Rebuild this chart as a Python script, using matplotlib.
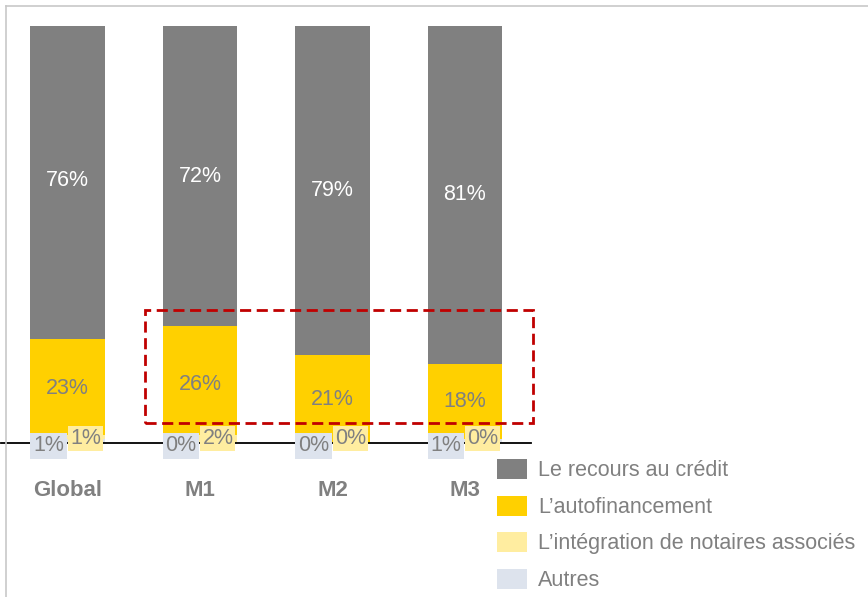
import matplotlib
matplotlib.use("Agg")
import matplotlib.pyplot as plt
from matplotlib.patches import Rectangle, Patch
from matplotlib.lines import Line2D
import numpy as np

plt.rcParams['font.family'] = ['Liberation Sans', 'DejaVu Sans']

categories = ["Global", "M1", "M2", "M3"]
credit = [76, 72, 79, 81]
autofin = [23, 26, 21, 18]
notaires = [1, 2, 0, 0]
autres = [1, 0, 0, 1]
series_names = ["Le recours au crédit", "L’autofinancement",
                "L’intégration de notaires associés", "Autres"]

C_GRAY = "#808080"
C_YEL = "#ffd000"
C_LYEL = "#ffeda0"
C_BLUE = "#dde3ed"
TXT = "#808080"

W, H = 868, 597
fig = plt.figure(figsize=(W / 100, H / 100), dpi=100)

def fx(px):
    return px / W

def fy(py):
    return 1 - py / H

ax = fig.add_axes([fx(1.25), fy(443), fx(530), (443 - 26) / H])
x = np.arange(len(categories))
bw = 0.566

b0 = np.zeros(len(x))
ax.bar(x, autres, bw, bottom=b0, color=C_BLUE, label=series_names[3])
b1 = b0 + np.array(autres)
ax.bar(x, notaires, bw, bottom=b1, color=C_LYEL, label=series_names[2])
b2 = b1 + np.array(notaires)
ax.bar(x, autofin, bw, bottom=b2, color=C_YEL, label=series_names[1])
b3 = b2 + np.array(autofin)
ax.bar(x, credit, bw, bottom=b3, color=C_GRAY, label=series_names[0])

ax.set_xlim(-0.5, 3.5)
ax.set_ylim(0, 100)

fs = 15.5
for i in range(len(x)):
    ax.text(x[i], b3[i] + credit[i] / 2, f"{credit[i]}%", ha="center", va="center",
            color="white", fontsize=fs)
    ax.text(x[i], (b1[i] + b3[i]) / 2, f"{autofin[i]}%", ha="center", va="center",
            color=TXT, fontsize=fs)
    ax.text(x[i] - 0.143, -0.7, f"{autres[i]}%", ha="center", va="center",
            color=TXT, fontsize=fs, clip_on=False,
            bbox=dict(boxstyle="square,pad=0.13", fc=C_BLUE, ec="none"))
    ax.text(x[i] + 0.135, 1.0, f"{notaires[i]}%", ha="center", va="center",
            color=TXT, fontsize=fs, clip_on=False,
            bbox=dict(boxstyle="square,pad=0.09", fc=C_LYEL, ec="none"))

for s in ["top", "right", "left"]:
    ax.spines[s].set_visible(False)
ax.spines["bottom"].set_color("black")
ax.spines["bottom"].set_linewidth(1.3)
ax.set_yticks([])
ax.set_xticks(x)
ax.set_xticklabels(categories, fontsize=16, fontweight="bold", color=TXT)
ax.tick_params(axis="x", length=0, pad=27)

# red dashed highlight
ax.add_patch(Rectangle((0.585, 4.8), 2.928, 27.1, fill=False, ec="#c00000",
                       lw=2.0, ls=(0, (4, 2)), clip_on=False, zorder=5))

handles = [Patch(fc=C_GRAY), Patch(fc=C_YEL), Patch(fc=C_LYEL), Patch(fc=C_BLUE)]
fig.legend(handles, series_names, loc="upper left",
           bbox_to_anchor=(fx(497), fy(459)), bbox_transform=fig.transFigure,
           frameon=False, fontsize=fs, labelcolor=TXT, handlelength=1.4,
           handleheight=1.05, handletextpad=0.5, labelspacing=0.66,
           borderpad=0, borderaxespad=0)

# figure border (top & left)
fig.add_artist(Line2D([fx(6), 1], [fy(6), fy(6)], color="#c8c8c8", lw=1.2))
fig.add_artist(Line2D([fx(6), fx(6)], [fy(6), 0], color="#c8c8c8", lw=1.2))

fig.savefig("out.png", dpi=100)
